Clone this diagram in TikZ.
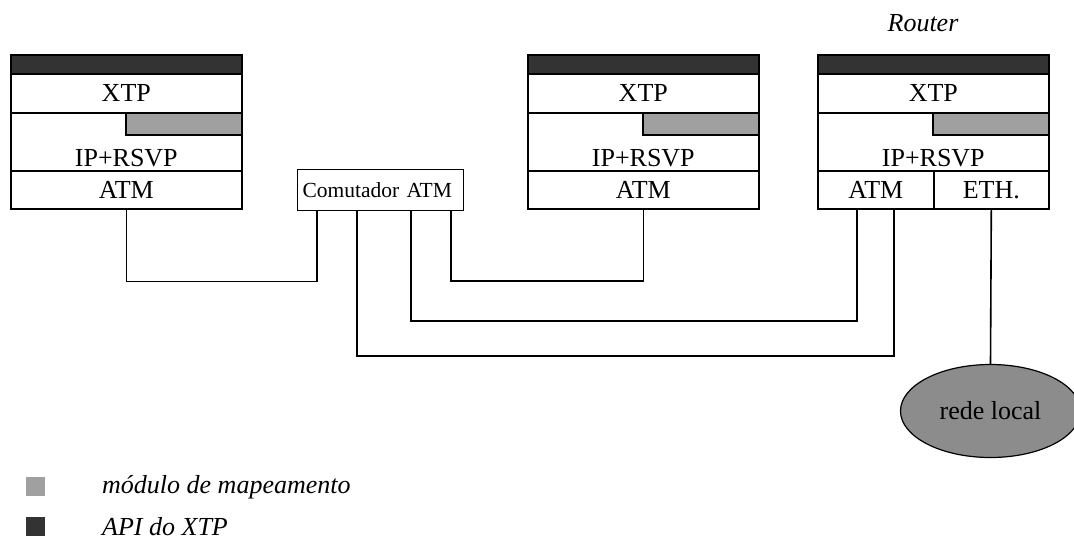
\documentclass[tikz,border=0pt]{standalone}
\usepackage{fontspec}
\setmainfont{Liberation Serif}
\usetikzlibrary{shapes.geometric}
\definecolor{apicor}{HTML}{333333}
\definecolor{mapacor}{HTML}{A0A0A0}
\definecolor{redecor}{HTML}{8C8C8C}
\begin{document}
\begin{tikzpicture}[x=1pt,y=-1pt,
    every node/.style={font=\fontsize{26}{30}\selectfont, inner sep=0pt},
    camada/.style={draw, line width=1.6pt, anchor=north west, minimum width=231pt},
    mapa/.style={draw, line width=1.6pt, fill=mapacor, anchor=north west,
      minimum width=116pt, minimum height=22pt},
    ligacao/.style={line width=1.6pt}]
  \useasboundingbox (0,0) rectangle (1074,555);
  % pilhas protocolares
  \foreach \n/\x in {esq/10, meio/527, router/817} {
    \node[camada, fill=apicor, minimum height=19pt] (\n-api) at (\x,54) {};
    \node[camada, minimum height=39pt] (\n-xtp) at (\x,73) {XTP};
    \node[camada, minimum height=58pt] (\n-ip) at (\x,112) {};
    \node[anchor=base] (\n-iptxt) at ([yshift=5pt]\n-ip.south) {IP+RSVP};
    \node[mapa] (\n-mapa) at (\x+115,112) {};
  }
  \foreach \n/\x in {esq/10, meio/527}
    \node[camada, minimum height=38pt] (\n-atm) at (\x,170) {ATM};
  \node[camada, minimum width=116pt, minimum height=38pt] (router-atm) at (817,170) {ATM};
  \node[camada, minimum width=115pt, minimum height=38pt] (router-eth) at (933,170) {ETH.};
  \node[font=\fontsize{26}{30}\selectfont\itshape] (rotulo) at (923,23) {Router};
  % comutador e rede local
  \node[draw, line width=1.2pt, anchor=north west, minimum width=166pt, minimum height=41pt,
    text width=156pt, align=left, font=\fontsize{21.5}{25}\selectfont] (com) at (297,169) {Comutador ATM};
  \node[ellipse, draw, line width=1.2pt, fill=redecor, minimum width=180pt, minimum height=93pt]
    (rede) at (990.5,411) {rede local};
  \begin{scope}[ligacao]
    \draw (esq-atm.south) -- ++(0,72) -| ([xshift=20pt]com.south west);
    \draw ([xshift=154pt]com.south west) -- ++(0,70) -| (meio-atm.south);
    \draw ([xshift=114pt]com.south west) -- ++(0,110) -| ([xshift=-19pt]router-atm.south);
    \draw ([xshift=60pt]com.south west) -- ++(0,145) -| ([xshift=18pt]router-atm.south);
    \draw (router-eth.south) -- (rede.north);
  \end{scope}
  % legenda
  \node[fill=mapacor, minimum size=19pt] (leg1) at (35,486) {};
  \node[anchor=west, font=\fontsize{26}{30}\selectfont\itshape] (txt1) at (102,487) {módulo de mapeamento};
  \node[fill=apicor, minimum size=19pt] (leg2) at (35,526) {};
  \node[anchor=west, font=\fontsize{26}{30}\selectfont\itshape] (txt2) at (102,527) {API do XTP};
\end{tikzpicture}
\end{document}
